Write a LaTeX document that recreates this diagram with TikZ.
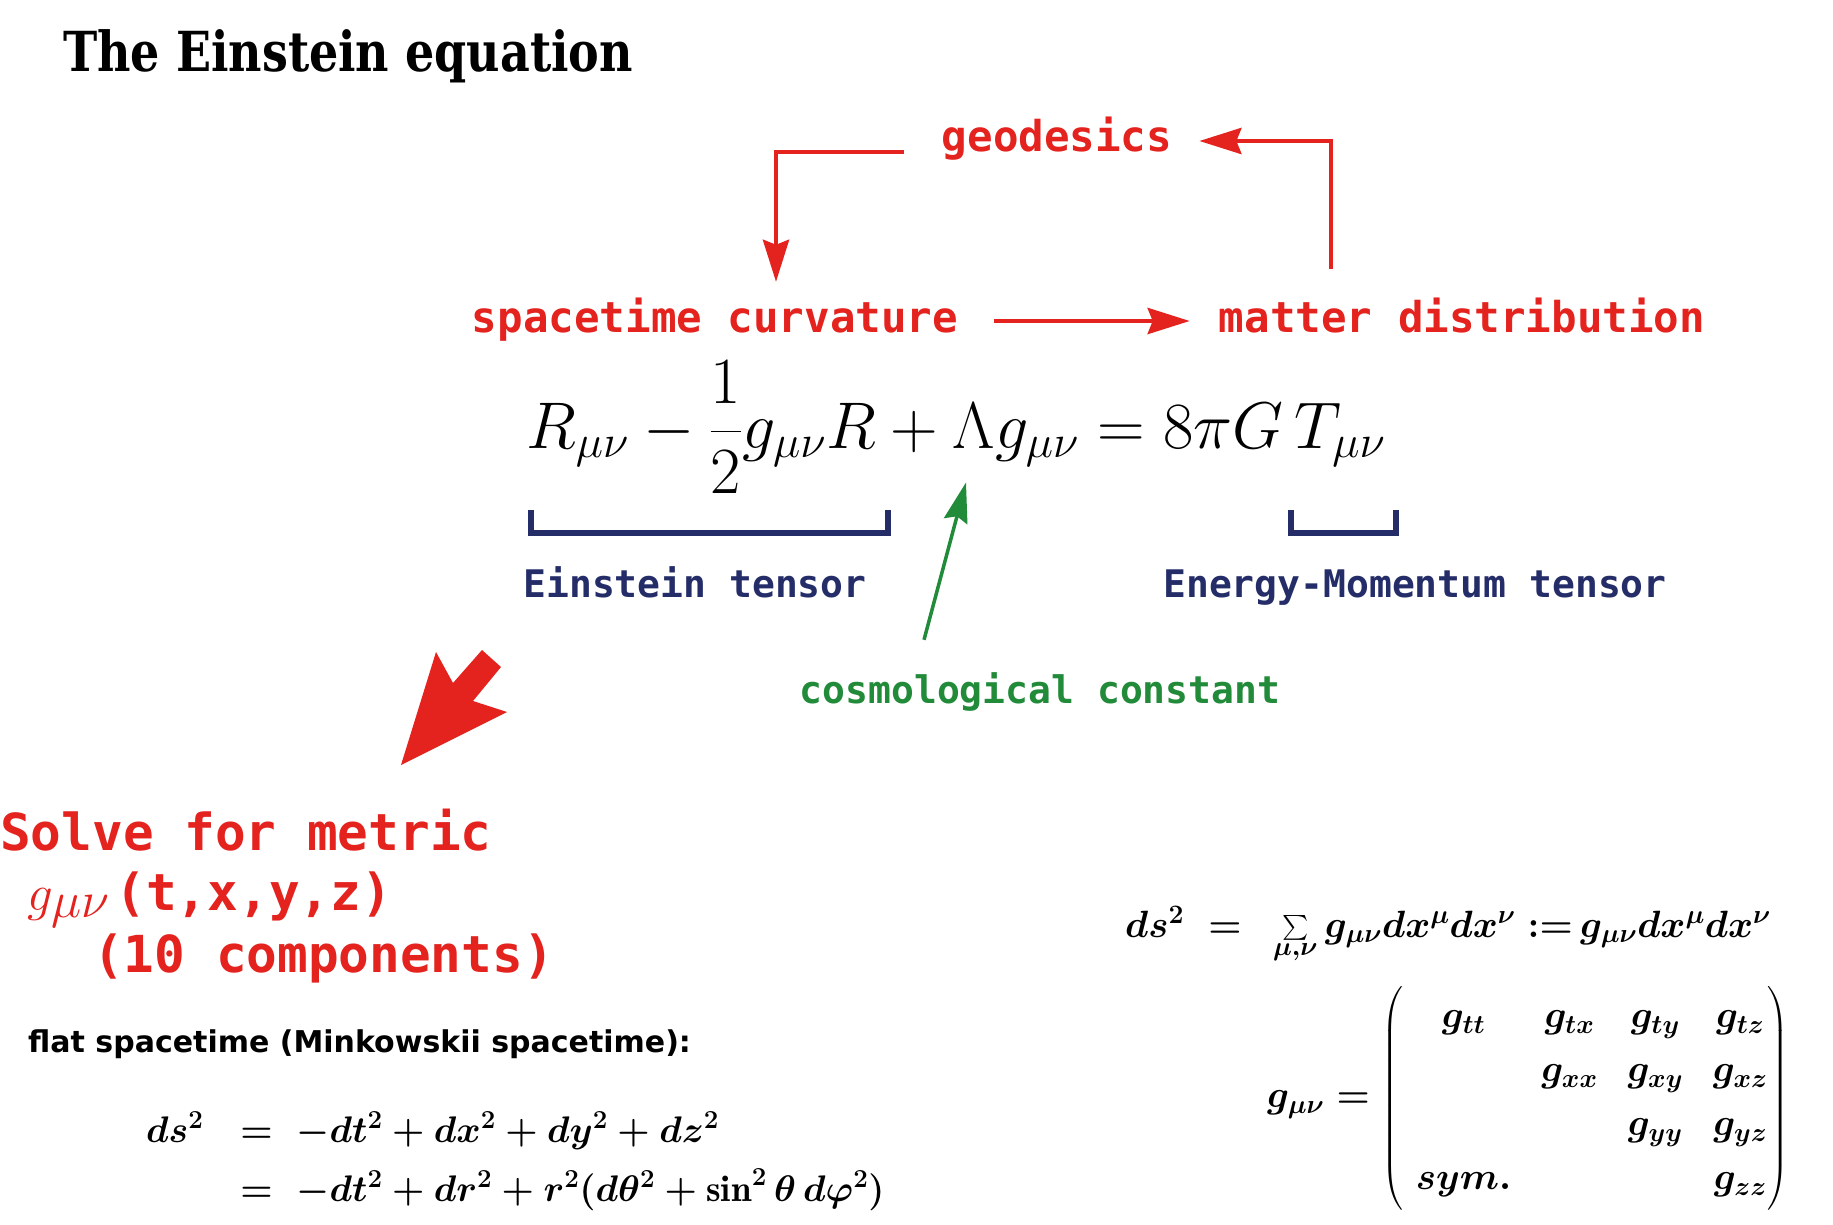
\RequirePackage{fix-cm}
\documentclass[tikz,border=0pt]{standalone}
\usepackage{amsmath}
\usepackage{fontspec}
\newfontfamily\codefont{DejaVu Sans Mono}
\newfontfamily\flatfont{DejaVu Sans}
\newfontfamily\titlefont{DejaVu Serif}
\usetikzlibrary{arrows.meta,positioning}
\definecolor{myred}{RGB}{228,34,30}
\definecolor{mynavy}{RGB}{37,45,105}
\definecolor{mygreen}{RGB}{34,139,58}

% equations set outside the picture
\newsavebox{\minkbox}
\newsavebox{\dsbox}
\newsavebox{\matbox}

\begin{document}
\sbox{\minkbox}{\fontsize{37}{59}\selectfont\boldmath$\begin{array}[t]{@{}r@{\quad{=}\;\;}l@{}}
    ds^2 & -dt^2+dx^2+dy^2+dz^2\\
         & -dt^2+dr^2+r^2(d\theta^2+\sin^2\theta\, d\varphi^2)
   \end{array}$}%
\sbox{\dsbox}{\fontsize{38}{46}\selectfont\boldmath$ds^2\;\;{=}\;\;\sum\limits_{\mu,\nu}g_{\mu\nu}dx^\mu dx^\nu\;{:=}\,g_{\mu\nu}dx^\mu dx^\nu$}%
\sbox{\matbox}{\fontsize{38}{54}\selectfont\boldmath\setlength\arraycolsep{15pt}$g_{\mu\nu}=\begin{pmatrix}
    \;g_{tt} & g_{tx} & g_{ty} & g_{tz}\\
           & g_{xx} & g_{xy} & g_{xz}\\
           &        & g_{yy} & g_{yz}\\
    \;sym.   &        &        & g_{zz}
   \end{pmatrix}$}%
\begin{tikzpicture}[x=1pt,y=-1pt,
redlbl/.style={text=myred,inner sep=0pt,font=\codefont\bfseries\fontsize{42.5}{50}\selectfont,text height=32pt,text depth=10pt},
tenslbl/.style={text=mynavy,inner sep=0pt,font=\codefont\bfseries\fontsize{38}{46}\selectfont,text height=29pt,text depth=9pt},
solvelbl/.style={text=myred,inner sep=0pt,anchor=base west,font=\codefont\bfseries\fontsize{51}{61}\selectfont},
redarr/.style={-{Stealth[length=42pt,width=26pt,inset=5pt]},draw=myred,line width=4.5pt},
grnarr/.style={-{Stealth[length=40pt,width=24pt,inset=5pt]},draw=mygreen,line width=3.5pt},
brkt/.style={draw=mynavy,line width=6pt}
]
\useasboundingbox (0,0) rectangle (1833,1225);
\fill[white] (0,0) rectangle (1833,1225);

\node[anchor=base west,inner sep=0pt,font=\titlefont\bfseries\fontsize{46}{54}\selectfont] (title) at (63,72) {\scalebox{1}[1.2]{The Einstein equation}};

% feedback loop
\node[redlbl,anchor=base] (geo) at (1057,152) {geodesics};
\node[redlbl,anchor=base] (curv) at (715,332) {spacetime curvature};
\node[redlbl,anchor=base] (matter) at (1462,332) {matter distribution};

\draw[redarr] ([xshift=-38pt]geo.base west) -| ([xshift=61pt,yshift=18pt]curv.north);
\draw[redarr] ([xshift=36pt]curv.east) -- ([xshift=-29pt]matter.west);
\draw[redarr] ([xshift=-131pt,yshift=31pt]matter.north) |- ([xshift=27pt]geo.east);

% field equation
\node[anchor=base,inner sep=0pt,font=\fontsize{66}{80}\selectfont] (eq) at (956,448)
  {$\displaystyle R_{\mu\nu}-\frac{1}{2}g_{\mu\nu}R+\Lambda g_{\mu\nu}=8\pi G\,T_{\mu\nu}$};

\draw[brkt] (531,510) |- (888,533) -- (888,510);
\draw[brkt] (1291,510) |- (1396,533) -- (1396,510);

\node[tenslbl,anchor=base] (ein) at (695,597) {Einstein tensor};
\node[tenslbl,anchor=base] (emt) at (1415,597) {Energy-Momentum tensor};
\node[tenslbl,text=mygreen,anchor=base] (cosmo) at (1040,703) {cosmological constant};

\draw[grnarr] ([xshift=-116pt,yshift=34pt]cosmo.north) -- ([xshift=10pt,yshift=11pt]eq.south);

% solve for the metric
\fill[myred] (482,650) -- (501,667) -- (473,701) -- (507,712) -- (401,765) -- (436,652) -- (453,683) -- cycle;

\node[solvelbl] (solve) at (0,850) {Solve for metric};
\node[solvelbl] (gfun) at (27,910) {$g_{\textstyle\mu\nu}$\hspace{6pt}(t,x,y,z)};
\node[solvelbl] (ncomp) at (93,972) {(10 components)};

% flat case
\node[anchor=base west,inner sep=0pt,font=\flatfont\bfseries\fontsize{30}{36}\selectfont] (flat) at (28,1052)
  {flat spacetime (Minkowskii spacetime):};
\node[anchor=base west,inner sep=0pt] (mink) at (146,1142) {\usebox{\minkbox}};

% general metric
\node[anchor=base west,inner sep=0pt] (dsline) at (1125,937) {\usebox{\dsbox}};
\node[anchor=west,inner sep=0pt] (gmat) at (1267,1098) {\usebox{\matbox}};
\end{tikzpicture}
\end{document}
